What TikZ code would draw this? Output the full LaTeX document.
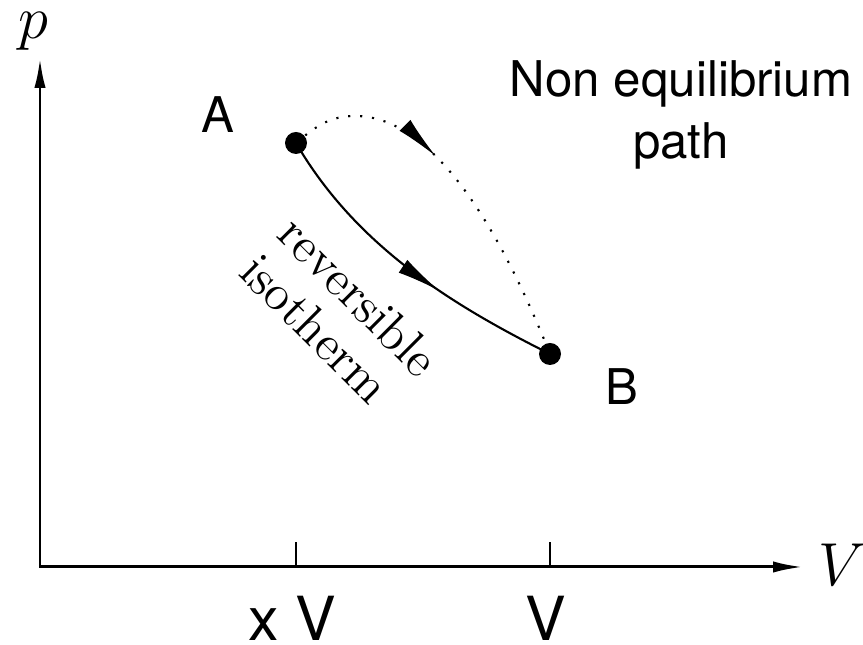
\documentclass[tikz,border=0pt]{standalone}
\usepackage{fontspec}
\newfontfamily\hvfont{TeX Gyre Heros}
\usepackage{tikz}
\usetikzlibrary{positioning, arrows.meta, decorations.markings}
\tikzset{
  ax/.style={line width=0.85pt, {Latex[length=8.5pt, width=3.2pt]}-{Latex[length=8.5pt, width=3.2pt]}},
  tk/.style={line width=0.6pt},
  crv/.style={line width=0.6pt},
  dt/.style={circle, fill, inner sep=0pt, minimum size=2.2mm},
  lbl/.style={inner sep=0pt, font=\hvfont\fontsize{14}{17.6}\selectfont},
  tklbl/.style={inner sep=0pt, font=\hvfont\fontsize{17.3}{20}\selectfont},
  axlbl/.style={inner sep=0pt, font=\LARGE},
  midarr/.style={postaction={decorate}, decoration={markings,
      mark=at position #1 with {\arrow{Latex[length=12.5pt, width=4.4pt]}}}},
}

\begin{document}
\begin{tikzpicture}
  \useasboundingbox (-0.40,-0.78) rectangle (8.23,5.67);
  % ---------- axes ----------
  \coordinate (o) at (0,0);
  \coordinate (ytip) at (0,5.09);
  \coordinate (xtip) at (7.63,0);
  \draw[ax] (ytip) -- (o) -- (xtip);
  \node[axlbl] (plbl) at (-0.07,5.36) {$p$};
  \node[axlbl] (vlbl) at (8.02,0.02) {$V$};
  % ---------- ticks ----------
  \coordinate (t1) at (2.56,0);
  \coordinate (t2) at (5.10,0);
  \draw[tk] (t1) -- ++(0,0.25);
  \draw[tk] (t2) -- ++(0,0.25);
  \node[tklbl, below=0.28cm of t1, xshift=-0.04cm] (t1l) {x V};
  \node[tklbl, below=0.28cm of t2, xshift=-0.04cm] (t2l) {V};
  % ---------- states ----------
  \node[dt] (A) at (2.56,4.24) {};
  \node[dt] (B) at (5.10,2.13) {};
  \node[lbl] (la) at (1.78,4.52) {A};
  \node[lbl] (lb) at (5.82,1.80) {B};
  % ---------- paths ----------
  \coordinate (pk) at (3.15,4.51);
  \draw[crv, midarr=0.62] (A.center) .. controls (3.16,3.21) and (4.12,2.62) .. (B.center);
  \draw[crv, dash pattern=on 0.6pt off 2.8pt, midarr=0.41] (A.center) to[out=40,in=180] (pk)
    .. controls (3.95,4.51) and (4.62,3.33) .. (B.center);
  % ---------- labels ----------
  \node[lbl, align=center] (neq) at (6.41,4.52) {Non equilibrium\\path};
  \node[font=\fontsize{14.3}{15.2}\selectfont, inner sep=0pt, align=left, rotate=-45] (iso)
    at (3.00,2.52) {reversible\\isotherm};
\end{tikzpicture}
\end{document}
